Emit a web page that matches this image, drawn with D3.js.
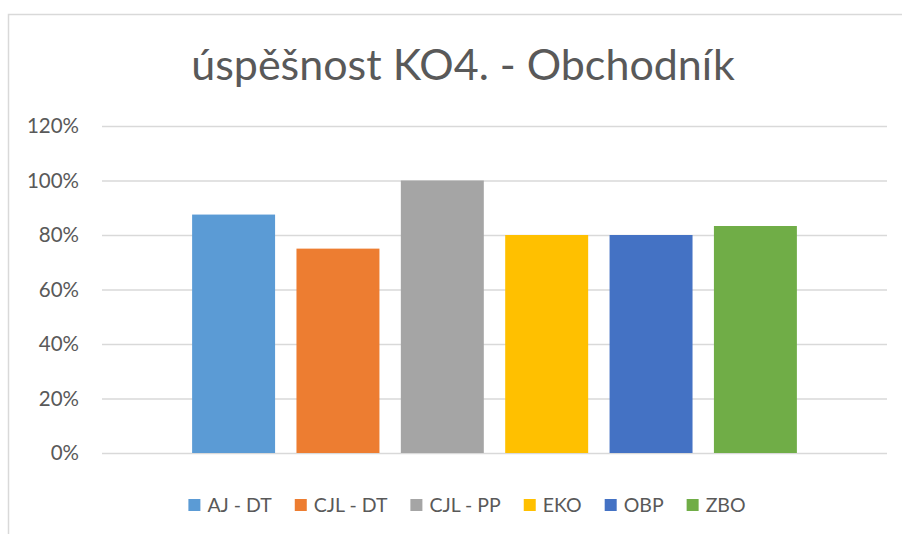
<!DOCTYPE html>
<html>
<head>
<meta charset="utf-8">
<script src="https://cdn.jsdelivr.net/npm/d3@7"></script>
<style>
  body { margin: 0; background: #fff; }
  svg { display: block; font-family: Lato, "Open Sans", sans-serif; }
</style>
</head>
<body>
<div id="chart"></div>
<script>
// chart data
const chartTitle = 'úspěšnost KO4. - Obchodník';
const categories = [''];
const seriesNames = ['AJ - DT', 'CJL - DT', 'CJL - PP', 'EKO', 'OBP', 'ZBO'];
const seriesValues = [0.875, 0.75, 1.0, 0.8, 0.8, 0.833];
const seriesColors = ['#5B9BD5', '#ED7D31', '#A5A5A5', '#FFC000', '#4472C4', '#70AD47'];
const yTicks = [0, 0.2, 0.4, 0.6, 0.8, 1.0, 1.2];

const width = 902, height = 534;
const margin = {top: 126, right: 15, bottom: 81, left: 102};
const centerX = 464;

const svg = d3.select('#chart')
    .append('svg')
    .attr('width', width)
    .attr('height', height);

// chart frame (right and bottom edges fall outside the picture)
svg.append('rect')
    .attr('x', 8.5)
    .attr('y', 14.5)
    .attr('width', width + 40)
    .attr('height', height + 40)
    .attr('fill', '#fff')
    .attr('stroke', '#d9d9d9')
    .attr('stroke-width', 1.5);

// title
svg.append('text')
    .attr('x', centerX - 1)
    .attr('y', 80)
    .attr('text-anchor', 'middle')
    .attr('fill', '#595959')
    .style('font-size', '43px')
    .text(chartTitle);

const y = d3.scaleLinear()
    .domain([0, 1.2])
    .range([height - margin.bottom, margin.top]);

const x0 = d3.scaleBand()
    .domain(categories)
    .range([margin.left, width - margin.right])
    .paddingInner(0)
    .paddingOuter(0.149);

const x1 = d3.scaleBand()
    .domain(seriesNames)
    .range([0, x0.bandwidth()])
    .paddingInner(0.205)
    .paddingOuter(0);

// gridlines
svg.append('g')
    .attr('class', 'grid')
    .attr('transform', `translate(${margin.left},0)`)
    .call(d3.axisLeft(y)
        .tickValues(yTicks)
        .tickSize(-(width - margin.right - margin.left))
        .tickFormat(''))
    .call(g => g.select('.domain').remove())
    .call(g => g.selectAll('line')
        .attr('stroke', '#d9d9d9')
        .attr('stroke-width', 1.5));

// y axis labels
svg.append('g')
    .attr('class', 'axis axis--y')
    .attr('transform', `translate(${margin.left},0)`)
    .call(d3.axisLeft(y)
        .tickValues(yTicks)
        .tickSize(0)
        .tickPadding(23)
        .tickFormat(d3.format('.0%')))
    .call(g => g.select('.domain').remove())
    .call(g => g.selectAll('text')
        .attr('fill', '#595959')
        .style('font-size', '20.5px')
        .style('font-family', 'Lato, "Open Sans", sans-serif'));

// bars
const rows = seriesNames.map((name, i) => ({name, value: seriesValues[i], color: seriesColors[i]}));

svg.append('g')
    .selectAll('.bar')
    .data(rows)
    .enter().append('rect')
    .attr('class', 'bar')
    .attr('x', d => x0(categories[0]) + x1(d.name))
    .attr('y', d => y(d.value))
    .attr('width', x1.bandwidth())
    .attr('height', d => y(0) - y(d.value))
    .attr('fill', d => d.color);

// legend
const legend = svg.append('g').attr('class', 'legend');
const items = legend.selectAll('.item')
    .data(rows)
    .enter().append('g')
    .attr('class', 'item');

items.append('rect')
    .attr('width', 12)
    .attr('height', 12)
    .attr('y', 499)
    .attr('fill', d => d.color);

items.append('text')
    .attr('x', 19)
    .attr('y', 512)
    .attr('fill', '#595959')
    .style('font-size', '19.5px')
    .text(d => d.name);

let offset = 0;
const positions = [];
items.each(function() {
    const w = d3.select(this).select('text').node().getComputedTextLength();
    positions.push(offset);
    offset += 19 + w + 23;
});
const totalWidth = offset - 23;
const startX = centerX + 3 - totalWidth / 2;
items.attr('transform', (d, i) => `translate(${startX + positions[i]},0)`);
</script>
</body>
</html>
